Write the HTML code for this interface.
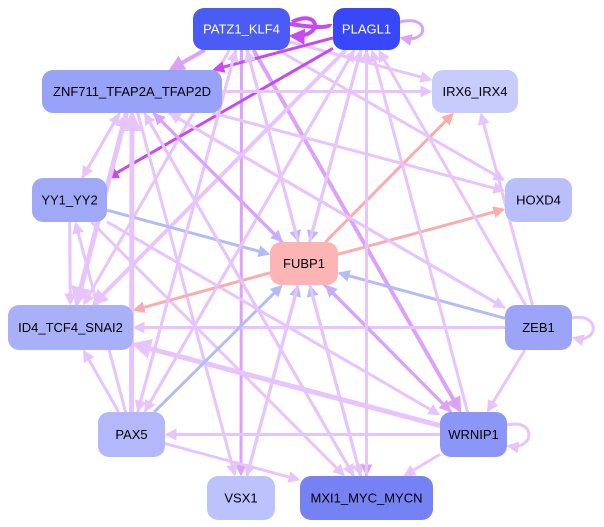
<!DOCTYPE html>
<html><head><meta charset="utf-8"><style>
html,body{margin:0;padding:0;background:#fff;width:604px;height:527px;overflow:hidden}
svg{display:block}
text{font-family:"Liberation Sans",sans-serif;font-size:13px;text-anchor:middle;dominant-baseline:central}
</style></head><body>
<svg id="s" width="604" height="527" viewBox="0 0 604 527">
<defs>
<marker id="a1" markerWidth="4" markerHeight="4" refX="3.2" refY="2" orient="auto" markerUnits="strokeWidth"><path d="M0,0L4,2L0,4z" fill="#e8c4fc"/></marker>
<marker id="a2" markerWidth="4" markerHeight="4" refX="3.2" refY="2" orient="auto" markerUnits="strokeWidth"><path d="M0,0L4,2L0,4z" fill="#dca2fa"/></marker>
<marker id="a3" markerWidth="4" markerHeight="4" refX="3.2" refY="2" orient="auto" markerUnits="strokeWidth"><path d="M0,0L4,2L0,4z" fill="#c848f2"/></marker>
<marker id="a4" markerWidth="4" markerHeight="4" refX="3.2" refY="2" orient="auto" markerUnits="strokeWidth"><path d="M0,0L4,2L0,4z" fill="#b4bcf8"/></marker>
<marker id="a5" markerWidth="4" markerHeight="4" refX="3.2" refY="2" orient="auto" markerUnits="strokeWidth"><path d="M0,0L4,2L0,4z" fill="#fcacac"/></marker>
</defs>
<g id="e"></g>
<g id="n"></g>
</svg>
<script>
var N={
PATZ1:[193,8,97,42,'#4a5cf4','PATZ1_KLF4','#fff'],
PLAGL1:[333,8,67,42,'#3848f8','PLAGL1','#fff'],
ZNF:[42,70,180,43,'#98a2f8','ZNF711_TFAP2A_TFAP2D','#000'],
IRX:[432,70,86,43,'#c8ccfc','IRX6_IRX4','#000'],
YY1:[32,178,75,44,'#a0a8f8','YY1_YY2','#000'],
HOXD4:[505,178,67,44,'#babffc','HOXD4','#000'],
FUBP1:[270,242,68,43,'#fcb4b4','FUBP1','#000'],
ID4:[8,305,125,45,'#a8b0f8','ID4_TCF4_SNAI2','#000'],
ZEB1:[505,305,67,45,'#9ca4f8','ZEB1','#000'],
PAX5:[98,412,67,45,'#b2b8fa','PAX5','#000'],
WRNIP1:[440,412,67,45,'#8c96f6','WRNIP1','#000'],
VSX1:[207,476,68,44,'#bcc2fc','VSX1','#000'],
MXI1:[300,476,133,44,'#7682f4','MXI1_MYC_MYCN','#000']};
var C={1:'#e8c4fc',2:'#dca2fa',3:'#c848f2',4:'#b4bcf8',5:'#fcacac'};
var E=[
['PATZ1','ZNF',2,4],['PATZ1','FUBP1',4,3],['PATZ1','WRNIP1',2,4],['PATZ1','MXI1',1,3],['PATZ1','VSX1',2,3],['PATZ1','ID4',1,3],['PATZ1','PAX5',1,3],['PATZ1','IRX',1,3],['PATZ1','HOXD4',1,3],
['PLAGL1','ZNF',3,3],['PLAGL1','YY1',3,3],['PLAGL1','FUBP1',4,3],['PLAGL1','ID4',1,4],['PLAGL1','PAX5',1,3],['PLAGL1','VSX1',1,3],['PLAGL1','MXI1',2,3],
['ZNF','IRX',1,3],['ZNF','HOXD4',1,3],['ZNF','FUBP1',4,3],['ZNF','WRNIP1',2,3],['ZNF','MXI1',1,3],['ZNF','VSX1',1,3],['ZNF','ZEB1',1,3],['ZNF','ID4',1,5],['ZNF','YY1',1,3],
['YY1','FUBP1',4,3],['YY1','ID4',1,3],['YY1','MXI1',1,3],['YY1','WRNIP1',1,3],['YY1','ZNF',1,3],
['FUBP1','IRX',5,3],['FUBP1','HOXD4',5,3],['FUBP1','ID4',5,3],
['ID4','ZNF',1,4],['WRNIP1','ID4',1,5],['ZEB1','ID4',1,3],['ZEB1','FUBP1',4,3],['ZEB1','IRX',1,3],['ZEB1','WRNIP1',1,3],['ZEB1','PLAGL1',1,3],['ZEB1','ZNF',1,3],
['PAX5','ID4',1,3],['PAX5','FUBP1',4,3],['PAX5','ZNF',1,5],['PAX5','MXI1',1,3],['PAX5','YY1',1,3],['PAX5','PATZ1',1,3],['PAX5','PLAGL1',1,3],
['WRNIP1','PAX5',1,3],['WRNIP1','FUBP1',4,3],['WRNIP1','MXI1',1,3],['WRNIP1','PLAGL1',1,3],['WRNIP1','ZNF',2,3],
['VSX1','FUBP1',4,3],['VSX1','PLAGL1',1,3],['MXI1','FUBP1',4,3],['MXI1','PLAGL1',1,3],['MXI1','ZNF',1,3],['MXI1','PATZ1',1,3]];
function c(k){var n=N[k];return[n[0]+n[2]/2,n[1]+n[3]/2];}
function clip(k,x,y,dx,dy){var n=N[k],hw=n[2]/2,hh=n[3]/2,t=Math.min(Math.abs(dx)>0?hw/Math.abs(dx):1e9,Math.abs(dy)>0?hh/Math.abs(dy):1e9);return[x+dx*t,y+dy*t];}
var ns='http://www.w3.org/2000/svg',g=document.getElementById('e'),h='';
E.forEach(function(e){var a=c(e[0]),b=c(e[1]),dx=b[0]-a[0],dy=b[1]-a[1];var p=clip(e[0],a[0],a[1],dx,dy),q=clip(e[1],b[0],b[1],-dx,-dy);
var L=Math.hypot(q[0]-p[0],q[1]-p[1]),ux=(q[0]-p[0])/L,uy=(q[1]-p[1])/L;q=[q[0]-ux*2,q[1]-uy*2];
h+='<line x1="'+p[0]+'" y1="'+p[1]+'" x2="'+q[0]+'" y2="'+q[1]+'" stroke="'+C[e[2]]+'" stroke-width="'+e[3]+'" marker-end="url(#a'+e[2]+')"/>';});
h+='<path d="M290,24 Q330,30 330,24" stroke="#c848f2" stroke-width="4" fill="none"/>';
h+='<path d="M292,22 C320,8 325,38 292,36" stroke="#c848f2" stroke-width="4" fill="none" marker-end="url(#a3)"/>';
h+='<path d="M400,22 C430,14 430,44 402,38" stroke="#dca2fa" stroke-width="3" fill="none" marker-end="url(#a2)"/>';
h+='<path d="M572,318 C600,312 600,344 574,338" stroke="#e8c4fc" stroke-width="3" fill="none" marker-end="url(#a1)"/>';
h+='<path d="M507,425 C536,418 536,450 509,446" stroke="#e8c4fc" stroke-width="3" fill="none" marker-end="url(#a1)"/>';
h+='<path d="M330,55 C300,130 200,140 72,168" stroke="none" fill="none"/>';
g.innerHTML=h;
var s='';for(var k in N){var n=N[k];s+='<rect x="'+n[0]+'" y="'+n[1]+'" width="'+n[2]+'" height="'+n[3]+'" rx="11" fill="'+n[4]+'"/><text x="'+(n[0]+n[2]/2)+'" y="'+(n[1]+n[3]/2)+'" fill="'+n[6]+'">'+n[5]+'</text>';}
document.getElementById('n').innerHTML=s;
</script>
</body></html>
